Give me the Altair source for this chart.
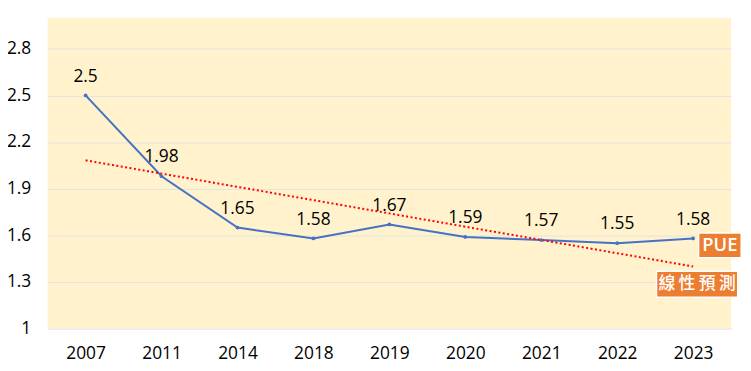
import altair as alt
import pandas as pd

years = ["2007", "2011", "2014", "2018", "2019", "2020", "2021", "2022", "2023"]
pue = [2.5, 1.98, 1.65, 1.58, 1.67, 1.59, 1.57, 1.55, 1.58]
y_ticks = [1, 1.3, 1.6, 1.9, 2.2, 2.5, 2.8]

df = pd.DataFrame({"idx": list(range(len(years))), "year": years, "pue": pue})
df["label"] = [str(v) for v in pue]

label_expr = "[" + ",".join(f"'{y}'" for y in years) + "][datum.value]"

FONT = "Open Sans"
CJK = "Noto Sans CJK TC"
FS = 17.5

x = alt.X("idx:Q", scale=alt.Scale(domain=[-0.5, len(years) - 0.5], nice=False, zero=False),
          axis=alt.Axis(values=list(range(len(years))), labelExpr=label_expr, title=None,
                        grid=False, domain=False, ticks=False, labelFontSize=FS,
                        labelColor="#000000", labelPadding=16, labelFont=FONT))
y = alt.Y("pue:Q", scale=alt.Scale(domain=[1, 3], nice=False, zero=False),
          axis=alt.Axis(values=y_ticks, format="~g", title=None, domain=False, ticks=False,
                        labelFontSize=FS, labelColor="#000000", labelPadding=17,
                        gridColor="#E3E3E3", gridWidth=1, labelFont=FONT))

base = alt.Chart(df)

line = base.mark_line(color="#4472C4", strokeWidth=2).encode(x=x, y=y)
pts = base.mark_point(color="#4472C4", filled=True, size=14, opacity=1).encode(x="idx:Q", y="pue:Q")
labels = base.mark_text(dy=-19, fontSize=FS, font=FONT, color="#000000").encode(
    x="idx:Q", y="pue:Q", text="label:N")

trend = base.transform_regression("idx", "pue").mark_line(
    color="#FF0000", strokeWidth=2, strokeDash=[2, 2.5]).encode(x="idx:Q", y="pue:Q")

last = df.tail(1)
box_pue = alt.Chart(last).mark_point(
    shape="M-1,-0.58L1,-0.58L1,0.58L-1,0.58Z", size=43 * 43, filled=True, fill="#ED7D31",
    stroke="white", strokeWidth=1.5, opacity=1, xOffset=27, yOffset=7).encode(x="idx:Q", y="pue:Q")
txt_pue = alt.Chart(last).mark_text(text="PUE", font=FONT, fontSize=18.5, fontWeight=600,
                                    color="white", dx=27, dy=7).encode(x="idx:Q", y="pue:Q")

trend_end = base.transform_regression("idx", "pue").transform_filter("datum.idx == %d" % (len(years) - 1))
box_lin = trend_end.mark_point(
    shape="M-1,-0.32L1,-0.32L1,0.32L-1,0.32Z", size=82 * 82, filled=True, fill="#ED7D31",
    stroke="white", strokeWidth=1.5, opacity=1, xOffset=4, yOffset=18).encode(x="idx:Q", y="pue:Q")
txt_lin = trend_end.mark_text(text="線\u2009性\u2009預\u2009測", font=CJK, fontSize=17, fontWeight=500,
                              color="white", dx=4, dy=18).encode(x="idx:Q", y="pue:Q")

chart = alt.layer(line, trend, pts, labels, box_pue, txt_pue, box_lin, txt_lin).properties(
    width=690, height=314,
    background="white",
    autosize=alt.AutoSizeParams(type="none"),
    padding={"left": 40, "top": 8, "right": 12, "bottom": 40},
).configure_view(fill="#FFF2CC", stroke=None)

chart.save("out.html", embed_options={"renderer": "svg", "actions": False})
